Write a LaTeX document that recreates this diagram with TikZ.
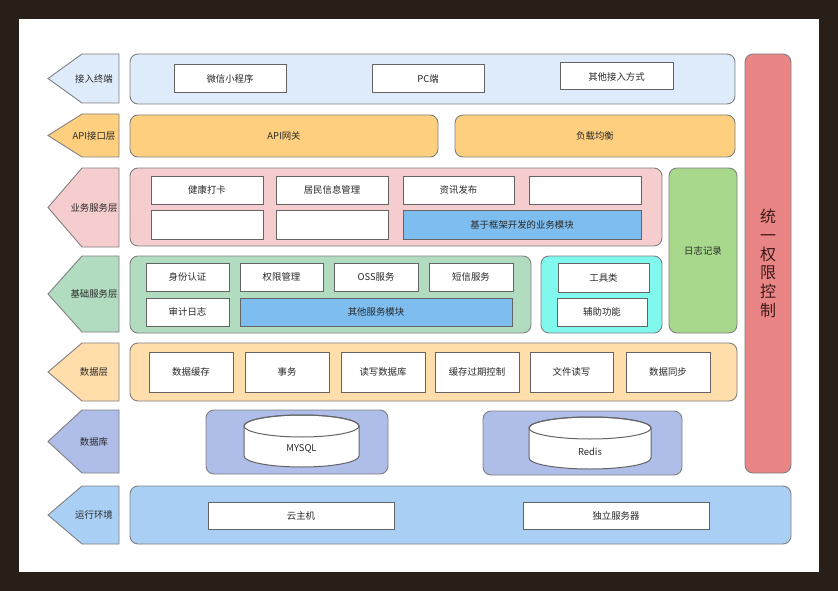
\documentclass[tikz,border=0pt]{standalone}
\usepackage{fontspec}
\setmainfont{Noto Sans CJK SC}
\definecolor{framec}{RGB}{40,32,24}
\definecolor{txt}{RGB}{40,40,40}
\definecolor{bord}{RGB}{128,128,128}
\definecolor{boxb}{RGB}{100,100,100}
\definecolor{cone}{RGB}{222,235,250}
\definecolor{api}{RGB}{255,207,128}
\definecolor{pinkc}{RGB}{246,205,206}
\definecolor{bgreen}{RGB}{178,220,192}
\definecolor{cyanc}{RGB}{128,248,238}
\definecolor{logc}{RGB}{168,216,140}
\definecolor{redc}{RGB}{234,133,133}
\definecolor{redtxt}{RGB}{60,26,26}
\definecolor{datac}{RGB}{255,222,171}
\definecolor{dbc}{RGB}{175,189,233}
\definecolor{runc}{RGB}{170,207,245}
\definecolor{modblue}{RGB}{125,189,240}
\newcommand{\rb}[7]{\node[#1,minimum width={(#5-#3)*1pt},minimum height={(#6-#4)*1pt}] (#2) at ({(#3+#5)/2},{(#4+#6)/2}) {#7};}
\newcommand{\layarrow}[5]{%
  \draw[lay,fill=#4] (119,#2) -- (82,#2) -- (48,{(#2+#3)/2}) -- (82,#3) -- (119,#3) -- cycle;
  \node (#1) at (94,{(#2+#3)/2}) {#5};}
\newcommand{\cyl}[6]{%
  \filldraw[draw=boxb,line width=1pt,fill=white] ({#1-#2},#3) -- ({#1-#2},#4)
    arc[start angle=180,end angle=0,x radius=#2,y radius=#5] -- ({#1+#2},#3)
    arc[start angle=0,end angle=-180,x radius=#2,y radius=#5] -- cycle;
  \draw[draw=boxb,line width=1pt] (#1,#3) ellipse[x radius=#2,y radius=#5];}
\begin{document}
\begin{tikzpicture}[x=1pt,y=-1pt,
  every node/.style={font=\fontsize{9.4}{11}\selectfont,text=txt,inner sep=0pt},
  cont/.style={draw=bord,line width=0.9pt,rounded corners=8pt},
  wbox/.style={draw=boxb,line width=1pt,fill=white},
  bluebox/.style={draw=boxb,line width=1pt,fill=modblue},
  lay/.style={draw=bord,line width=0.9pt}]
\useasboundingbox (0,0) rectangle (838,591);
\fill[framec] (0,0) rectangle (838,591);
\fill[white] (19,19) rectangle (819,572);
% row 1
\layarrow{l1}{54}{103}{cone}{接入终端}
\rb{cont,fill=cone}{r1}{130}{54}{735}{104}{}
\rb{wbox}{wx}{174}{65}{286}{93}{微信小程序}
\rb{wbox}{pc}{372}{65}{484}{93}{PC端}
\rb{wbox}{other}{560}{63}{673}{90}{其他接入方式}
% row 2
\layarrow{l2}{114}{157}{api}{API接口层}
\rb{cont,fill=api}{gw}{130}{115}{438}{157}{API网关}
\rb{cont,fill=api}{lb}{455}{115}{735}{157}{负载均衡}
% row 3
\layarrow{l3}{168}{247}{pinkc}{业务服务层}
\rb{cont,fill=pinkc}{r3}{130}{168}{662}{246}{}
\rb{wbox}{jk}{151}{176}{263}{204}{健康打卡}
\rb{wbox}{jm}{276}{176}{388}{204}{居民信息管理}
\rb{wbox}{zx}{403}{176}{514}{204}{资讯发布}
\rb{wbox}{e1}{529}{176}{641}{204}{}
\rb{wbox}{e2}{151}{210}{263}{239}{}
\rb{wbox}{e3}{276}{210}{388}{239}{}
\rb{bluebox}{kj}{403}{210}{641}{239}{基于框架开发的业务模块}
% log
\rb{cont,fill=logc}{log}{669}{168}{737}{333}{日志记录}
% row 4
\layarrow{l4}{256}{332}{bgreen}{基础服务层}
\rb{cont,fill=bgreen}{r4}{130}{256}{531}{333}{}
\rb{wbox}{sf}{146}{263}{229}{291}{身份认证}
\rb{wbox}{qx}{240}{263}{323}{291}{权限管理}
\rb{wbox}{oss}{334}{263}{418}{291}{OSS服务}
\rb{wbox}{dx}{429}{263}{513}{291}{短信服务}
\rb{wbox}{sj}{146}{298}{229}{326}{审计日志}
\rb{bluebox}{qt}{240}{298}{512}{326}{其他服务模块}
\rb{cont,fill=cyanc}{r4b}{541}{256}{662}{333}{}
\rb{wbox}{gj}{558}{263}{649}{292}{工具类}
\rb{wbox}{fz}{557}{298}{647}{326}{辅助功能}
% auth
\rb{cont,fill=redc,align=center,text=redtxt,font=\fontsize{16}{18.7}\selectfont}{auth}{745}{54}{791}{473}{统\\一\\权\\限\\控\\制}
% row 5
\layarrow{l5}{343}{401}{datac}{数据层}
\rb{cont,fill=datac}{r5}{130}{343}{737}{401}{}
\rb{wbox}{hc}{149}{352}{233}{392}{数据缓存}
\rb{wbox}{sw}{245}{352}{329}{392}{事务}
\rb{wbox}{dxk}{341}{352}{425}{392}{读写数据库}
\rb{wbox}{gq}{435}{352}{519}{392}{缓存过期控制}
\rb{wbox}{wj}{530}{352}{613}{392}{文件读写}
\rb{wbox}{tb}{626}{352}{710}{392}{数据同步}
% row 6
\layarrow{l6}{410}{473}{dbc}{数据库}
\rb{cont,fill=dbc}{db1}{206}{410}{388}{474}{}
\rb{cont,fill=dbc}{db2}{483}{411}{682}{475}{}
\cyl{301.5}{57.5}{426}{456}{11}{}
\node (mysql) at (301.5,449) {MYSQL};
\cyl{590}{61}{428}{458}{11}{}
\node (redis) at (590,452) {Redis};
% row 7
\layarrow{l7}{486}{544}{runc}{运行环境}
\rb{cont,fill=runc}{r7}{130}{486}{791}{544}{}
\rb{wbox}{yzj}{208}{502}{394}{529}{云主机}
\rb{wbox}{dl}{523}{502}{709}{529}{独立服务器}
\end{tikzpicture}
\end{document}
